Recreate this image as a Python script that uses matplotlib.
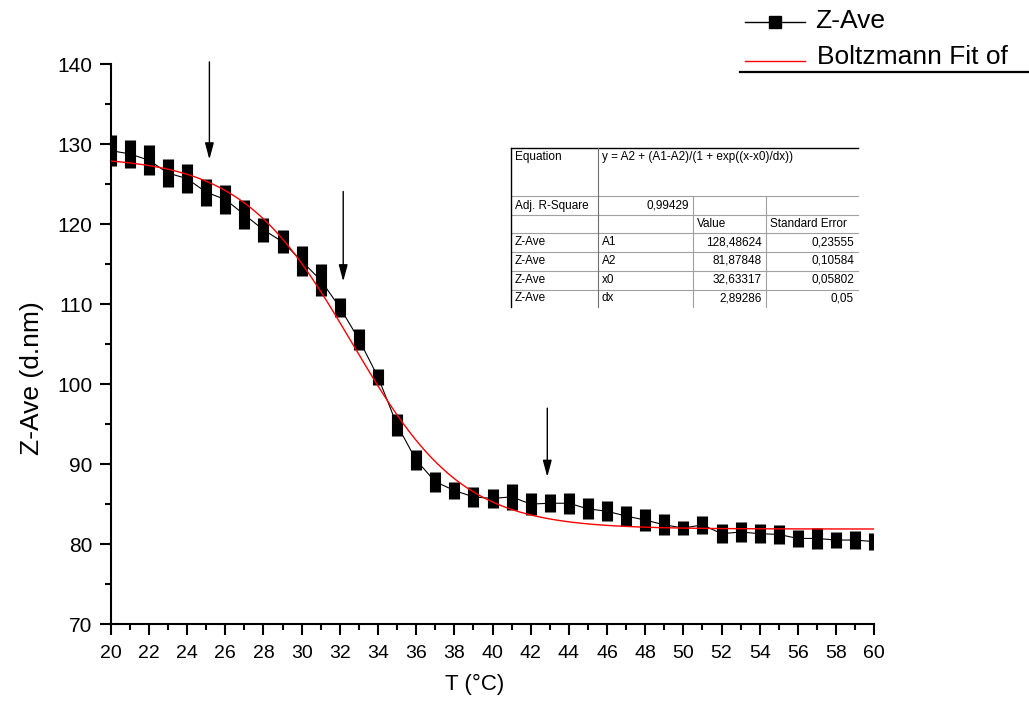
import numpy as np
import matplotlib
matplotlib.use("Agg")
import matplotlib.pyplot as plt
from matplotlib.lines import Line2D

plt.rcParams['font.family'] = ['Liberation Sans', 'DejaVu Sans']

# --- data ---
temps = [20, 21, 22, 23, 24, 25, 26, 27, 28, 29, 30, 31, 32, 33, 34, 35, 36, 37, 38, 39, 40,
         41, 42, 43, 44, 45, 46, 47, 48, 49, 50, 51, 52, 53, 54, 55, 56, 57, 58, 59, 60]
z_ave = [129.2, 128.8, 128.0, 126.4, 125.7, 124.0, 123.1, 121.2, 119.3, 117.8, 115.4,
         113.0, 109.6, 105.6, 100.9, 94.9, 90.5, 87.8, 86.7, 85.9, 85.7,
         85.9, 85.0, 85.1, 85.1, 84.4, 84.1, 83.5, 83.0, 82.4, 82.0,
         82.4, 81.3, 81.5, 81.3, 81.2, 80.7, 80.7, 80.5, 80.5, 80.3]
z_err = [1.9, 1.75, 1.9, 1.8, 1.8, 1.7, 1.8, 1.8, 1.5, 1.45, 1.9,
         2.0, 1.2, 1.35, 1.05, 1.4, 1.2, 1.25, 1.1, 1.25, 1.2,
         1.6, 1.35, 1.15, 1.3, 1.3, 1.25, 1.2, 1.4, 1.3, 0.85,
         1.1, 1.2, 1.2, 1.2, 1.2, 1.1, 1.3, 1.05, 1.1, 1.05]

# Boltzmann fit parameters (from the table in the chart)
fit_names = ['A1', 'A2', 'x0', 'dx']
fit_values = ['128,48624', '81,87848', '32,63317', '2,89286']
fit_errors = ['0,23555', '0,10584', '0,05802', '0,05']
A1, A2, x0, dx = 128.48624, 81.87848, 32.63317, 2.89286
adj_r2 = '0,99429'

# arrows: (x, y_tail, y_tip)
arrows = [(25.17, 140.3, 128.1), (32.18, 124.1, 112.85), (42.87, 97.0, 88.4)]

W, H = 1029, 711
fig = plt.figure(figsize=(W / 100, H / 100), dpi=100)
ax = fig.add_axes([110.7 / W, 1 - 624 / H, (874.3 - 110.7) / W, (624 - 64.3) / H])


def fx(px):
    return px / W


def fy(py):
    return 1 - py / H


# data series: line + thick vertical bars
ax.plot(temps, z_ave, '-', color='black', lw=0.8, zorder=2)
ax.errorbar(temps, z_ave, yerr=z_err, fmt='none', ecolor='black', elinewidth=8,
            capsize=0, zorder=3)

# fit curve
xf = np.linspace(20, 60, 400)
yf = A2 + (A1 - A2) / (1 + np.exp((xf - x0) / dx))
ax.plot(xf, yf, color='red', lw=1.0, zorder=4)

for x, y0, y1 in arrows:
    ax.annotate('', xy=(x, y1), xytext=(x, y0),
                arrowprops=dict(arrowstyle='-|>,head_length=1.0,head_width=0.27',
                                color='black', lw=1, shrinkA=0, shrinkB=0))

ax.set_xlim(20, 60)
ax.set_ylim(70, 140)
ax.set_xticks(range(20, 61, 2))
ax.set_xticks(range(21, 60, 2), minor=True)
ax.set_yticks(range(70, 141, 10))
ax.set_yticks(range(75, 140, 10), minor=True)
for s in ['top', 'right']:
    ax.spines[s].set_visible(False)
for s in ['left', 'bottom']:
    ax.spines[s].set_linewidth(1.5)
ax.tick_params(which='major', direction='out', length=8, width=1.5)
ax.tick_params(which='minor', direction='out', length=4, width=1.5)
ax.tick_params(axis='y', pad=5, labelsize=15)
ax.tick_params(axis='x', pad=7, labelsize=14)
ax.set_xlabel('T (°C)', fontsize=16)
ax.set_ylabel('Z-Ave (d.nm)', fontsize=19)
ax.xaxis.set_label_coords(0.477, -0.089)
ax.yaxis.set_label_coords(-0.088, 0.44)

# legend (top right, outside axes)
fig.add_artist(Line2D([fx(745), fx(805)], [fy(22), fy(22)], color='black', lw=1,
                      transform=fig.transFigure))
fig.add_artist(Line2D([fx(775)], [fy(22)], color='black', marker='s', markersize=8,
                      lw=0, transform=fig.transFigure))
fig.text(fx(815), fy(21), 'Z-Ave', fontsize=19, va='center', ha='left')
fig.add_artist(Line2D([fx(745), fx(805)], [fy(61), fy(61)], color='red', lw=1,
                      transform=fig.transFigure))
fig.text(fx(817), fy(57), 'Boltzmann Fit of', fontsize=19, va='center', ha='left')
fig.add_artist(Line2D([fx(740), fx(1029)], [fy(72), fy(72)], color='black', lw=1.6,
                      transform=fig.transFigure))

# results table
cols = [511, 598, 693, 766, 858]
rows = [148, 196, 215, 233, 251.5, 270.5, 289.5, 307]
grey = '#a0a0a0'
tfs = 8.5


def hline(y, x0_, x1_, color=grey, lw=0.8):
    fig.add_artist(Line2D([fx(x0_), fx(x1_)], [fy(y), fy(y)], color=color, lw=lw,
                          transform=fig.transFigure))


def vline(x, y0_, y1_, color=grey, lw=0.8):
    fig.add_artist(Line2D([fx(x), fx(x)], [fy(y0_), fy(y1_)], color=color, lw=lw,
                          transform=fig.transFigure))


hline(rows[0], cols[0], cols[4], color='black', lw=1)
for r in rows[1:-1]:
    hline(r, cols[0], cols[4])
vline(cols[0], rows[0], rows[-1], color='black', lw=1)
vline(cols[1], rows[0], rows[-1], color='#707070')
vline(cols[2], rows[1], rows[-1])
vline(cols[3], rows[1], rows[-1])


def cell_text(txt, col, row, align='left'):
    yc = (rows[row] + rows[row + 1]) / 2
    if align == 'left':
        fig.text(fx(cols[col] + 4), fy(yc), txt, fontsize=tfs, ha='left', va='center')
    else:
        fig.text(fx(cols[col + 1] - 4), fy(yc), txt, fontsize=tfs, ha='right', va='center')


fig.text(fx(cols[0] + 4), fy(rows[0] + 9), 'Equation', fontsize=tfs, ha='left', va='center')
fig.text(fx(cols[1] + 4), fy(rows[0] + 9), 'y = A2 + (A1-A2)/(1 + exp((x-x0)/dx))',
         fontsize=tfs, ha='left', va='center')
cell_text('Adj. R-Square', 0, 1)
cell_text(adj_r2, 1, 1, align='right')
cell_text('Value', 2, 2)
cell_text('Standard Error', 3, 2)
for i, name in enumerate(fit_names):
    cell_text('Z-Ave', 0, 3 + i)
    cell_text(name, 1, 3 + i)
    cell_text(fit_values[i], 2, 3 + i, align='right')
    cell_text(fit_errors[i], 3, 3 + i, align='right')

fig.savefig('out.png', dpi=100)
